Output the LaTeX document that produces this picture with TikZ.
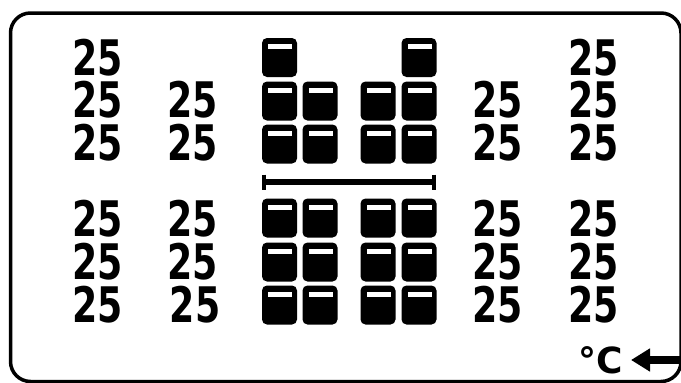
\documentclass[tikz,border=0pt]{standalone}
\usepackage{fontspec}
\usepackage{tikz}
\usetikzlibrary{arrows.meta}
\newfontfamily\lcdfont[FakeStretch=0.74]{DejaVu Sans}
\newfontfamily\degfont{DejaVu Sans}
\definecolor{lcdblack}{HTML}{000000}

\begin{document}
\begin{tikzpicture}[x=1pt, y=-1pt,
  num/.style={inner sep=0pt, font=\lcdfont\bfseries\fontsize{49}{49}\selectfont},
  seg/.style={fill=lcdblack, rounded corners=5pt, minimum width=35pt, minimum height=39pt, inner sep=0pt,
    path picture={\fill[white, sharp corners] ([xshift=6pt,yshift=-6pt]path picture bounding box.north west)
      rectangle ([xshift=-5pt,yshift=-11pt]path picture bounding box.north east);}},
  arr/.style={-{Triangle[length=19pt,width=22pt]}, line width=8.5pt}]
\useasboundingbox (0,0) rectangle (681,383);
\draw[line width=3.5pt, rounded corners=20pt] (10.5,13) rectangle (681,381.5);
% upper readings
\node[num] (ua1) at (97.5,58) {25}; \node[num] (ua2) at (97.5,100) {25}; \node[num] (ua3) at (97.5,143) {25};
\node[num] (ub2) at (192.5,100) {25}; \node[num] (ub3) at (192.5,143) {25};
\node[num] (uc2) at (497.5,100) {25}; \node[num] (uc3) at (497.5,143) {25};
\node[num] (ud1) at (593.5,58) {25}; \node[num] (ud2) at (593.5,100) {25}; \node[num] (ud3) at (593.5,143) {25};
% lower readings
\node[num] (la1) at (97.5,218.5) {25}; \node[num] (la2) at (97.5,261.5) {25}; \node[num] (la3) at (97.5,305) {25};
\node[num] (lb1) at (192.5,218.5) {25}; \node[num] (lb2) at (192.5,261.5) {25}; \node[num] (lb3) at (195,305) {25};
\node[num] (lc1) at (497.5,218.5) {25}; \node[num] (lc2) at (497.5,261.5) {25}; \node[num] (lc3) at (497.5,305) {25};
\node[num] (ld1) at (593.5,218.5) {25}; \node[num] (ld2) at (593.5,261.5) {25}; \node[num] (ld3) at (593.5,305) {25};
% level bars, upper
\node[seg] (sa1) at (279.5,57.5) {}; \node[seg] (sd1) at (419,57.5) {};
\node[seg] (sa2) at (279.5,101) {}; \node[seg] (sb2) at (320,101) {}; \node[seg] (sc2) at (378,101) {}; \node[seg] (sd2) at (419,101) {};
\node[seg] (sa3) at (279.5,144) {}; \node[seg] (sb3) at (320,144) {}; \node[seg] (sc3) at (378,144) {}; \node[seg] (sd3) at (419,144) {};
% separator
\draw[line width=6pt] (263,182) -- (435,182);
\draw[line width=4.5pt] (264,174.5) -- (264,189.5) (434,174.5) -- (434,189.5);
% level bars, lower
\node[seg] (ta1) at (279.5,218) {}; \node[seg] (tb1) at (320,218) {}; \node[seg] (tc1) at (378,218) {}; \node[seg] (td1) at (419,218) {};
\node[seg] (ta2) at (279.5,262) {}; \node[seg] (tb2) at (320,262) {}; \node[seg] (tc2) at (378,262) {}; \node[seg] (td2) at (419,262) {};
\node[seg] (ta3) at (279.5,305) {}; \node[seg] (tb3) at (320,305) {}; \node[seg] (tc3) at (378,305) {}; \node[seg] (td3) at (419,305) {};
% unit
\node[inner sep=0pt, font=\degfont\bfseries\fontsize{36}{36}\selectfont] (deg) at (601,360) {°C};
\coordinate (tail) at (684,360); \coordinate (tip) at (631,360);
\draw[arr] (tail) -- (tip);
\end{tikzpicture}
\end{document}
